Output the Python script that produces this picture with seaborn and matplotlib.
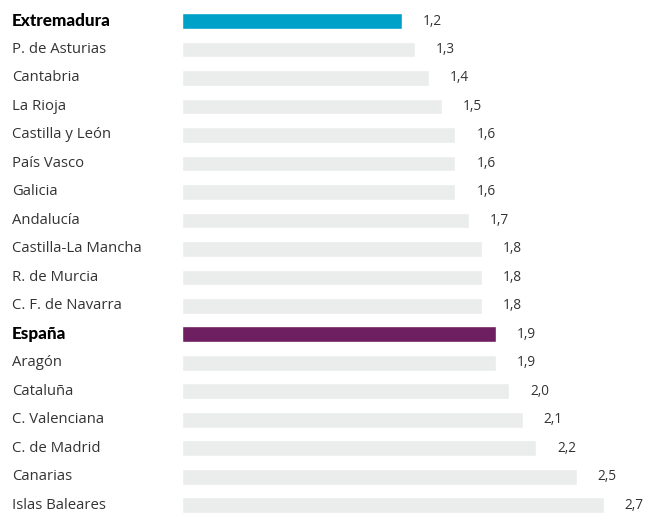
import numpy as np
import pandas as pd
import matplotlib
matplotlib.use("Agg")
import matplotlib.pyplot as plt
import matplotlib.transforms as mtransforms
import seaborn as sns

# Datos del gráfico
regiones = ["Extremadura", "P. de Asturias", "Cantabria", "La Rioja", "Castilla y León",
            "País Vasco", "Galicia", "Andalucía", "Castilla-La Mancha", "R. de Murcia",
            "C. F. de Navarra", "España", "Aragón", "Cataluña", "C. Valenciana",
            "C. de Madrid", "Canarias", "Islas Baleares"]
valores = [1.2, 1.3, 1.4, 1.5, 1.6, 1.6, 1.6, 1.7, 1.8, 1.8, 1.8, 1.9, 1.9, 2.0, 2.1, 2.2, 2.5, 2.7]
destacadas = {"Extremadura": "#00A1C9", "España": "#6E1F62"}

# las barras del original no arrancan en cero: tienen una base fija
BASE = 0.43
GRIS = "#EBECEC"

sns.set_theme(style="white")
plt.rcParams['font.family'] = ['Open Sans', 'DejaVu Sans']

df = pd.DataFrame({"region": regiones, "valor": valores})
df["barra"] = df["valor"] + BASE
colores = [destacadas.get(r, GRIS) for r in regiones]

fig = plt.figure(figsize=(6.59, 5.18), dpi=100)
ax = fig.add_axes([182 / 659, 0, 1 - 182 / 659, 1])

sns.barplot(data=df, x="barra", y="region", hue="region", palette=colores,
            legend=False, width=0.56, ax=ax, saturation=1)

ax.set_xlim(0, (659 - 182) / 134.7)
ax.set_ylim(17.44, -0.737)
ax.axis("off")

# etiquetas de valor a la derecha de cada barra
for cont, v in zip(ax.containers, valores):
    ax.bar_label(cont, labels=[f"{v:.1f}".replace(".", ",")], padding=15,
                 fontsize=9.8, color="#333333")

# nombres de las regiones alineados a la izquierda
trans = mtransforms.blended_transform_factory(fig.transFigure, ax.transData)
for i, r in enumerate(regiones):
    if r in destacadas:
        ax.text(12 / 659, i, r, transform=trans, ha="left", va="center",
                fontsize=12.3, fontweight="black", color="black",
                family=["Lato", "DejaVu Sans"])
    else:
        ax.text(12 / 659, i, r, transform=trans, ha="left", va="center",
                fontsize=10.7, color="#333333")

fig.savefig("out.png", dpi=100)
